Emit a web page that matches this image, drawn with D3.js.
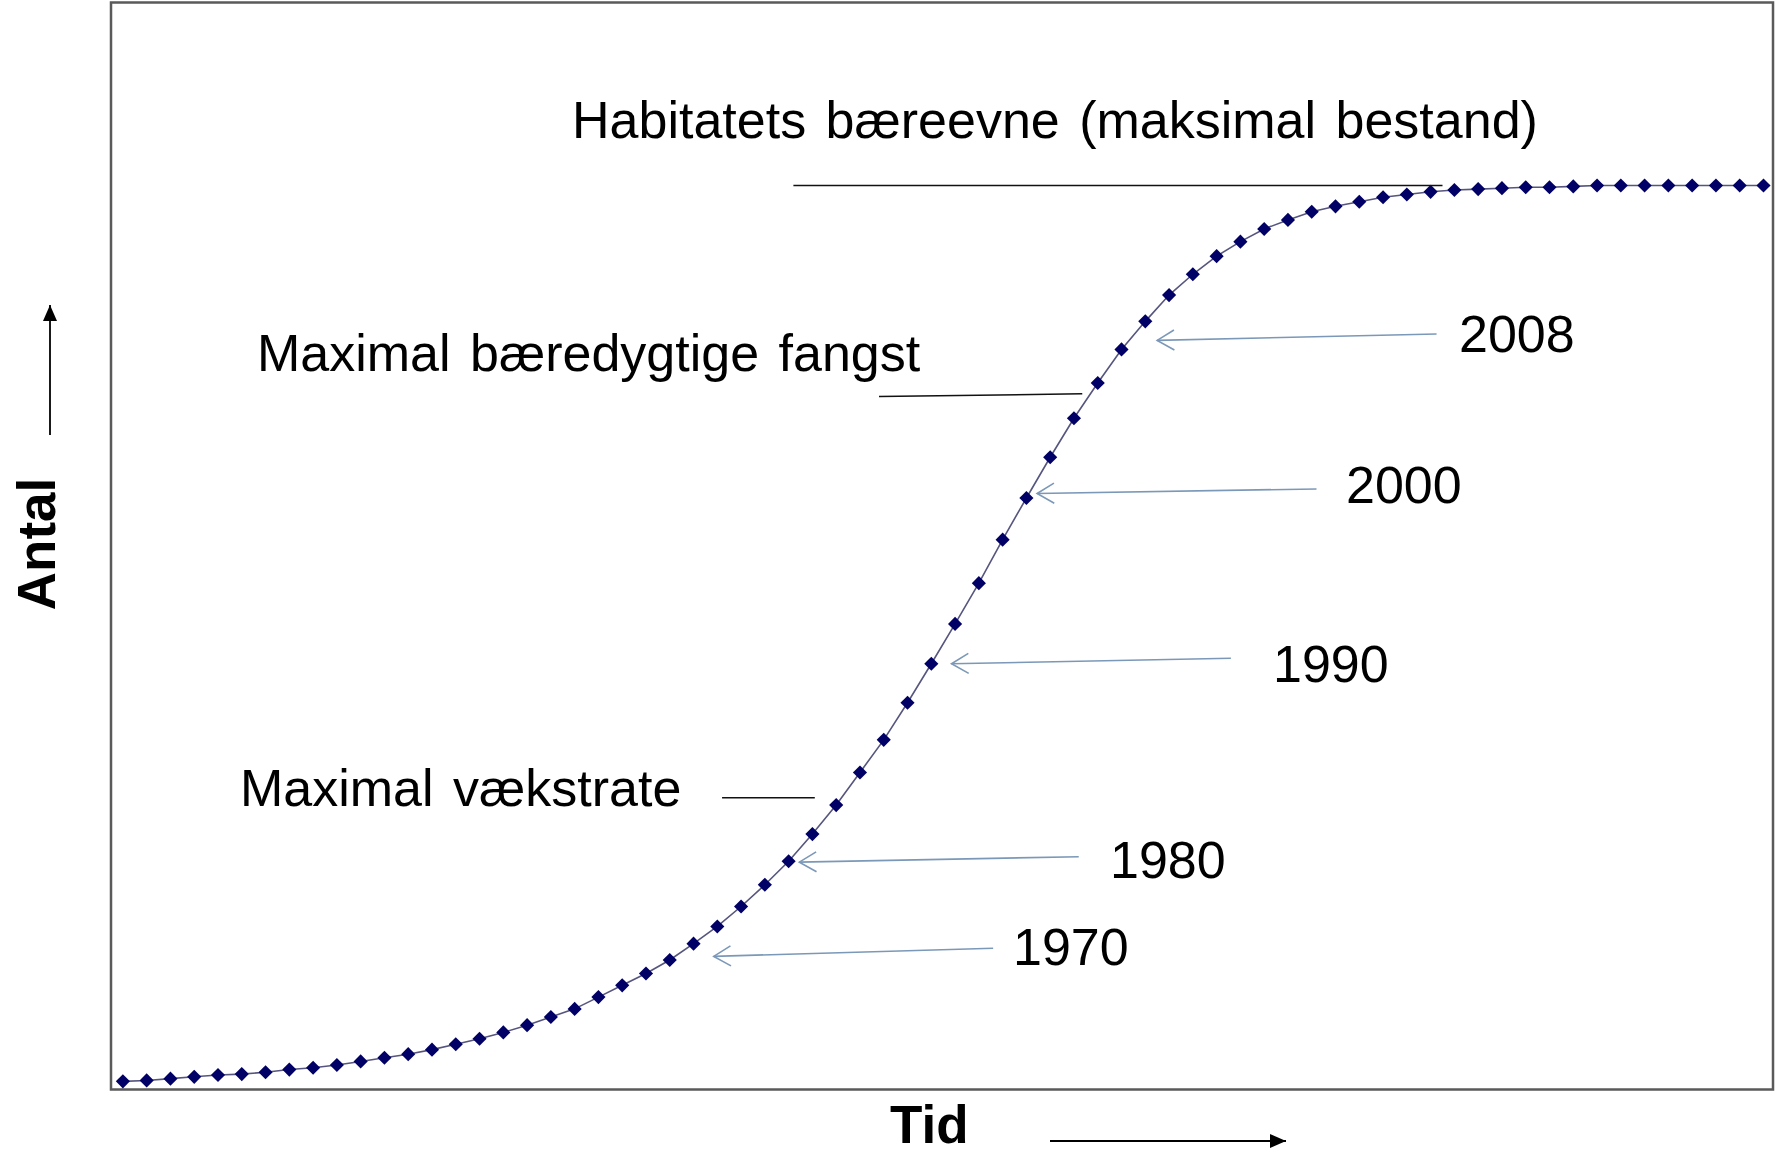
<!DOCTYPE html>
<html>
  <head>
    <meta charset="utf-8">
    <title>Antal over tid</title>
    <script src="https://d3js.org/d3.v7.min.js"></script>
    <style>
      body { margin: 0; background: #fff; }
      svg { display: block; font-family: "Liberation Sans", Arial, sans-serif; }
      .label { font-size: 52px; fill: #000; }
      .axisTitle { font-size: 53px; font-weight: bold; fill: #000; }
    </style>
  </head>
  <body>
    <div id="chart"></div>
    <script>
      // population values, one per time step
      var antal = [9, 10, 12, 14, 16, 17, 19, 22, 24, 27,
                   31, 35, 39, 44, 50, 56, 63, 71, 80, 89,
                   102, 115, 128, 143, 161, 180, 202, 226, 252, 282,
                   314, 350, 386, 427, 470, 514, 559, 607, 653, 698,
                   741, 780, 817, 848, 877, 900, 920, 936, 950, 960,
                   969, 975, 980, 985, 988, 991, 993, 994, 995, 996,
                   996, 997, 998, 998, 998, 998, 998, 998, 998, 998];
      // year arrows: label, tail (step, value), tip (step, value)
      var yearLabels = ["1970", "1980", "1990", "2000", "2008"];
      var yearTail = [[36.6, 156], [40.2, 257], [46.6, 476], [50.2, 663], [55.25, 834]];
      var yearTip = [[24.85, 147], [28.45, 251], [34.85, 470], [38.45, 658], [43.5, 827]];
      var yearText = [[1013, 965], [1110, 878], [1273, 682], [1346, 503], [1459, 352]];
      // reference lines next to the text notes: [step from, value from, step to, value to]
      var noteLabels = ["Habitatets bæreevne (maksimal bestand)", "Maximal bæredygtige fangst", "Maximal vækstrate"];
      var noteLines = [[28.2, 998, 55.5, 998], [31.8, 765, 40.35, 768], [25.2, 322, 29.1, 322]];
      var noteText = [[572, 138], [257, 371], [240, 806]];

      var width = 1776, height = 1157;
      var svg = d3.select("#chart").append("svg")
        .attr("width", width)
        .attr("height", height);

      var defs = svg.append("defs");
      defs.append("marker")
        .attr("id", "openHead")
        .attr("markerUnits", "userSpaceOnUse")
        .attr("markerWidth", 24).attr("markerHeight", 24)
        .attr("refX", 19).attr("refY", 12)
        .attr("orient", "auto")
        .append("path")
          .attr("d", "M2,2 L19,12 L2,22")
          .attr("fill", "none")
          .attr("stroke", "#7b98b8")
          .attr("stroke-width", 1.6);
      defs.append("marker")
        .attr("id", "solidHead")
        .attr("markerUnits", "userSpaceOnUse")
        .attr("markerWidth", 18).attr("markerHeight", 16)
        .attr("refX", 16).attr("refY", 8)
        .attr("orient", "auto")
        .append("path")
          .attr("d", "M0,1 L16,8 L0,15 Z")
          .attr("fill", "#000");

      // scales
      var x = d3.scaleLinear().domain([-0.5, 69.4]).range([111, 1773]);
      var y = d3.scaleLinear().domain([0, 1200]).range([1089.5, 2.5]);

      // frame
      svg.append("rect")
        .attr("x", x(-0.5)).attr("y", y(1200))
        .attr("width", x(69.4) - x(-0.5))
        .attr("height", y(0) - y(1200))
        .attr("fill", "none")
        .attr("stroke", "#5a5a5a")
        .attr("stroke-width", 2.5);

      // curve
      var line = d3.line()
        .x(function(d, i) { return x(i); })
        .y(function(d) { return y(d); });
      svg.append("path")
        .datum(antal)
        .attr("d", line)
        .attr("fill", "none")
        .attr("stroke", "#55557f")
        .attr("stroke-width", 1.6);

      var diamond = d3.symbol().type(d3.symbolSquare).size(100);
      svg.selectAll(".pt")
        .data(antal)
        .enter().append("path")
          .attr("class", "pt")
          .attr("d", diamond)
          .attr("transform", function(d, i) { return "translate(" + x(i) + "," + y(d) + ") rotate(45)"; })
          .attr("fill", "#000066");

      // notes
      svg.selectAll(".noteLine")
        .data(noteLines)
        .enter().append("line")
          .attr("class", "noteLine")
          .attr("x1", function(d) { return x(d[0]); })
          .attr("y1", function(d) { return y(d[1]); })
          .attr("x2", function(d) { return x(d[2]); })
          .attr("y2", function(d) { return y(d[3]); })
          .attr("stroke", "#111")
          .attr("stroke-width", 1.6);
      svg.selectAll(".note")
        .data(noteLabels)
        .enter().append("text")
          .attr("class", "label note")
          .attr("x", function(d, i) { return noteText[i][0]; })
          .attr("y", function(d, i) { return noteText[i][1]; })
          .attr("word-spacing", 5)
          .text(function(d) { return d; });

      // year arrows
      svg.selectAll(".yearArrow")
        .data(yearLabels)
        .enter().append("line")
          .attr("class", "yearArrow")
          .attr("x1", function(d, i) { return x(yearTail[i][0]); })
          .attr("y1", function(d, i) { return y(yearTail[i][1]); })
          .attr("x2", function(d, i) { return x(yearTip[i][0]); })
          .attr("y2", function(d, i) { return y(yearTip[i][1]); })
          .attr("stroke", "#7b98b8")
          .attr("stroke-width", 1.6)
          .attr("marker-end", "url(#openHead)");
      svg.selectAll(".year")
        .data(yearLabels)
        .enter().append("text")
          .attr("class", "label year")
          .attr("x", function(d, i) { return yearText[i][0]; })
          .attr("y", function(d, i) { return yearText[i][1]; })
          .text(function(d) { return d; });

      // axis titles with arrows
      svg.append("text")
        .attr("class", "axisTitle")
        .attr("text-anchor", "middle")
        .attr("transform", "translate(55,544) rotate(-90)")
        .text("Antal");
      svg.append("line")
        .attr("x1", 50).attr("y1", 435)
        .attr("x2", 50).attr("y2", 305)
        .attr("stroke", "#000").attr("stroke-width", 1.8)
        .attr("marker-end", "url(#solidHead)");
      svg.append("text")
        .attr("class", "axisTitle")
        .attr("x", 890).attr("y", 1143)
        .text("Tid");
      svg.append("line")
        .attr("x1", 1050).attr("y1", 1141)
        .attr("x2", 1286).attr("y2", 1141)
        .attr("stroke", "#000").attr("stroke-width", 1.8)
        .attr("marker-end", "url(#solidHead)");
    </script>
  </body>
</html>
